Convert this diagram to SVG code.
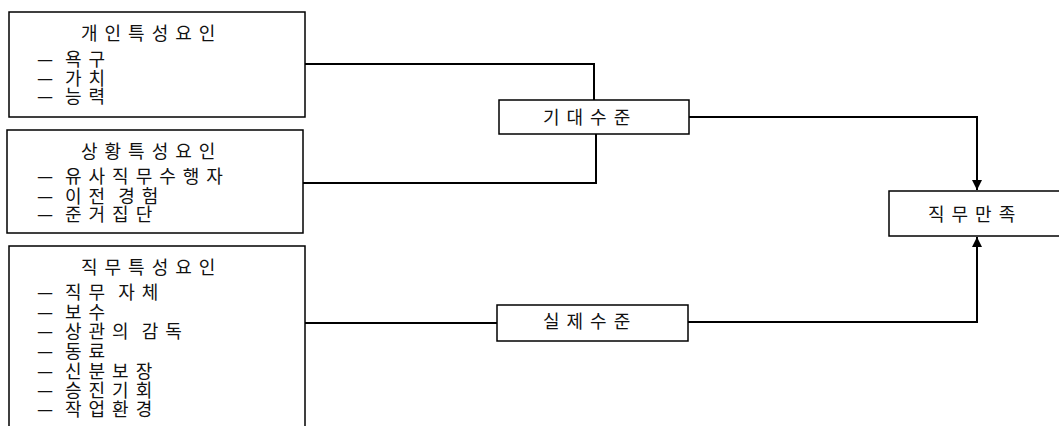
<svg xmlns="http://www.w3.org/2000/svg" width="1059" height="426" viewBox="0 0 1059 426">
<style>
.box{fill:#fff;stroke:#000;stroke-width:1.5}
.t{font-family:"Noto Sans CJK KR","Noto Sans",sans-serif;font-size:18px;letter-spacing:7px;word-spacing:-5px;fill:#111}
.d{font-family:"Noto Sans CJK KR","Noto Sans",sans-serif;font-size:18px;fill:#111}
.c{fill:none;stroke:#000;stroke-width:2}
</style>
<defs>
<marker id="ah" viewBox="0 0 10 10" refX="10" refY="5" markerWidth="5" markerHeight="5" orient="auto" markerUnits="strokeWidth">
<path d="M0,0 L10,5 L0,10 z" fill="#000"/>
</marker>
</defs>
<rect width="1059" height="426" fill="#fff"/>
<g id="connectors">
<path class="c" d="M305,64 H594 V100"/>
<path class="c" d="M303,183 H596 V134"/>
<path class="c" d="M689,117 H977 V190" marker-end="url(#ah)"/>
<path class="c" d="M305,323 H497"/>
<path class="c" d="M688,322 H977 V237" marker-end="url(#ah)"/>
</g>
<g id="personal">
<rect class="box" x="9" y="12" width="296" height="105"/>
<text class="t" x="81" y="40">개인특성요인</text>
<text class="d" x="37" y="66">—</text><text class="t" x="65" y="66">욕구</text>
<text class="d" x="37" y="85">—</text><text class="t" x="65" y="85">가치</text>
<text class="d" x="37" y="103">—</text><text class="t" x="65" y="103">능력</text>
</g>
<g id="situational">
<rect class="box" x="7" y="130" width="296" height="103"/>
<text class="t" x="81" y="158">상황특성요인</text>
<text class="d" x="37" y="183">—</text><text class="t" x="65" y="183">유사직무수행자</text>
<text class="d" x="37" y="203">—</text><text class="t" x="65" y="203">이전 경험</text>
<text class="d" x="37" y="221">—</text><text class="t" x="65" y="221">준거집단</text>
</g>
<g id="job">
<rect class="box" x="9" y="246" width="296" height="190"/>
<text class="t" x="81" y="274">직무특성요인</text>
<text class="d" x="37" y="299">—</text><text class="t" x="65" y="299">직무 자체</text>
<text class="d" x="37" y="319">—</text><text class="t" x="65" y="319">보수</text>
<text class="d" x="37" y="338">—</text><text class="t" x="65" y="338">상관의 감독</text>
<text class="d" x="37" y="358">—</text><text class="t" x="65" y="358">동료</text>
<text class="d" x="37" y="378">—</text><text class="t" x="65" y="378">신분보장</text>
<text class="d" x="37" y="397">—</text><text class="t" x="65" y="397">승진기회</text>
<text class="d" x="37" y="416">—</text><text class="t" x="65" y="416">작업환경</text>
</g>
<g id="expected">
<rect class="box" x="499" y="100" width="190" height="34"/>
<text class="t" x="543" y="124">기대수준</text>
</g>
<g id="actual">
<rect class="box" x="497" y="305" width="191" height="36"/>
<text class="t" x="543" y="328">실제수준</text>
</g>
<g id="satisfaction">
<rect class="box" x="889" y="191" width="172" height="45"/>
<text class="t" x="928" y="221">직무만족</text>
</g>
</svg>
